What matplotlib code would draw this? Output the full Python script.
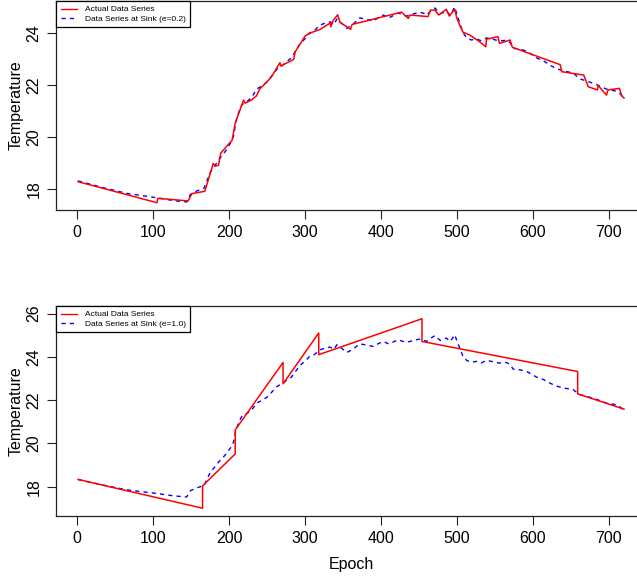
import matplotlib
matplotlib.use("Agg")
import matplotlib.pyplot as plt
from matplotlib.lines import Line2D

plt.rcParams['font.family'] = ['Liberation Sans', 'DejaVu Sans']

# Data series at sink (shared sensor series)
sink_epoch = [1, 30, 65, 105, 127, 144, 149, 158, 167, 175, 181, 186, 192, 197, 203, 206, 209,
              213, 217, 223, 230, 236, 243, 250, 257, 263, 271, 277, 282, 288, 293, 300, 306,
              312, 317, 320, 327, 333, 338, 342, 348, 355, 363, 372, 380, 390, 397, 403, 410,
              417, 423, 428, 434, 442, 451, 456, 460, 465, 471, 478, 482, 486, 491, 494, 497,
              502, 508, 513, 519, 526, 532, 539, 547, 556, 565, 570, 574, 583, 592, 598, 605,
              614, 622, 631, 640, 647, 653, 662, 670, 679, 688, 697, 704, 710, 715, 719]
sink_temp = [18.33, 18.10, 17.85, 17.68, 17.57, 17.52, 17.81, 17.95, 18.05, 18.65, 18.90, 19.13,
             19.35, 19.55, 19.85, 20.08, 20.62, 21.00, 21.27, 21.37, 21.55, 21.86, 21.98, 22.14,
             22.40, 22.63, 22.79, 22.95, 23.06, 23.35, 23.59, 23.80, 24.02, 24.10, 24.25, 24.33,
             24.40, 24.45, 24.35, 24.56, 24.40, 24.20, 24.35, 24.60, 24.55, 24.48, 24.62, 24.71,
             24.60, 24.70, 24.79, 24.72, 24.67, 24.75, 24.82, 24.78, 24.71, 24.85, 24.98, 24.76,
             24.80, 24.87, 24.71, 24.85, 25.02, 24.56, 24.02, 23.83, 23.75, 23.79, 23.72, 23.83,
             23.78, 23.71, 23.74, 23.65, 23.43, 23.40, 23.32, 23.20, 23.06, 22.95, 22.79, 22.65,
             22.56, 22.52, 22.48, 22.25, 22.18, 22.09, 21.98, 21.86, 21.82, 21.78, 21.68, 21.55]

# Actual data series, e=0.2
act02_epoch = [1, 105, 106, 146, 151, 168, 179, 182, 186, 189, 204, 208, 219, 221, 230, 236, 240,
               255, 267, 268, 285, 287, 300, 305, 320, 333, 334, 337, 343, 346, 360, 362, 427,
               436, 438, 462, 465, 471, 476, 486, 490, 497, 500, 504, 508, 517, 530, 538, 539,
               554, 556, 570, 573, 636, 638, 667, 673, 685, 686, 697, 699, 714, 717, 720]
act02_temp = [18.30, 17.49, 17.66, 17.56, 17.84, 17.93, 19.00, 18.90, 18.93, 19.40, 19.90, 20.55,
              21.44, 21.32, 21.45, 21.60, 21.85, 22.30, 22.88, 22.75, 23.00, 23.30, 23.90, 24.00,
              24.16, 24.40, 24.26, 24.50, 24.72, 24.43, 24.16, 24.35, 24.82, 24.58, 24.71, 24.65,
              24.90, 24.90, 24.71, 24.93, 24.67, 24.93, 24.58, 24.30, 24.05, 23.94, 23.68, 23.49,
              23.78, 23.88, 23.62, 23.75, 23.47, 22.80, 22.53, 22.40, 21.95, 21.83, 22.00, 21.63,
              21.83, 21.89, 21.60, 21.52]

# Actual data series, e=1.0
act10_epoch = [1, 165, 165, 208, 208, 271, 271, 318, 318, 454, 454, 659, 659, 720]
act10_temp = [18.33, 17.00, 18.03, 19.51, 20.62, 23.74, 22.75, 25.10, 24.10, 25.76, 24.71,
              23.32, 22.29, 21.58]

xticks = [0, 100, 200, 300, 400, 500, 600, 700]
yticks_top = [18, 20, 22, 24]
yticks_bot = [18, 20, 22, 24, 26]

W, H = 637, 578
fig = plt.figure(figsize=(W / 100, H / 100), dpi=100)
ax1 = fig.add_axes([56 / W, (H - 210) / H, 590 / W, 209 / H])
ax2 = fig.add_axes([56 / W, (H - 516) / H, 590 / W, 210 / H])

panels = [
    (ax1, act02_epoch, act02_temp, "Data Series at Sink (e=0.2)", (17.21, 25.25), yticks_top),
    (ax2, act10_epoch, act10_temp, "Data Series at Sink (e=1.0)", (16.64, 26.35), yticks_bot),
]

for ax, ae, at, lab, ylim, yt in panels:
    ax.plot(sink_epoch, sink_temp, color='blue', lw=1.0, linestyle=(0, (3, 3)))
    ax.plot(ae, at, color='red', lw=1.1)
    ax.set_xlim(-28, 749)
    ax.set_ylim(*ylim)
    ax.set_xticks(xticks)
    ax.set_yticks(yt)
    ax.tick_params(direction='out', length=6.5, width=0.8, labelsize=11.5, pad=4, color='#222222')
    plt.setp(ax.get_yticklabels(), rotation=90, va='center')
    for s in ax.spines.values():
        s.set_linewidth(0.9)
        s.set_color('#222222')
    ax.set_ylabel('Temperature', fontsize=11.5, va='center')
    ax.yaxis.set_label_coords(-0.067, 0.5)
    handles = [Line2D([], [], color='red', lw=1.0),
               Line2D([], [], color='blue', lw=1.0, linestyle=(0, (3, 3)))]
    leg = ax.legend(handles, ['Actual Data Series', lab], loc='upper left',
                    bbox_to_anchor=(0, 1), borderaxespad=0, fontsize=6,
                    fancybox=False, framealpha=1, edgecolor='black',
                    borderpad=0.55, labelspacing=0.15, handlelength=2.0,
                    handletextpad=0.9)
    leg.get_frame().set_linewidth(0.9)

ax2.set_xlabel('Epoch', fontsize=11.5, va='center')
ax2.xaxis.set_label_coords(0.5, -0.233)

fig.savefig('out.png', dpi=100)
